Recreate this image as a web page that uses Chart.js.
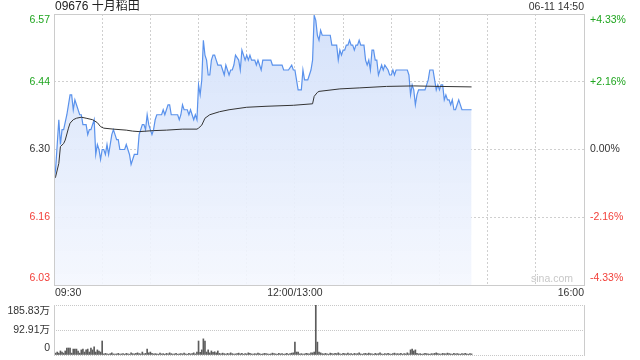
<!DOCTYPE html>
<html><head><meta charset="utf-8">
<script src="https://cdn.jsdelivr.net/npm/chart.js@4.4.1/dist/chart.umd.min.js"></script>
<style>
html,body{margin:0;padding:0;background:#fff;width:640px;height:360px;overflow:hidden}
.box{position:absolute;left:0;width:640px}
</style></head><body>
<div class="box" style="top:0;height:300px"><canvas id="c1" width="640" height="300"></canvas></div>
<div class="box" style="top:300px;height:60px"><canvas id="c2" width="640" height="60"></canvas></div>
<script>
const titleText = '09676 十月稻田';
const stampText = '06-11 14:50';
const prevClose = 6.30;
const pctRange = 4.33;
const priceTickLabels = ['6.57','6.44','6.30','6.16','6.03'];
const pctTickLabels = ['+4.33%','+2.16%','0.00%','-2.16%','-4.33%'];
const timeTickMinutes = [0,150,330];
const timeTickLabels = ['09:30','12:00/13:00','16:00'];
const volTickLabels = ['185.83万','92.91万','0'];
const volMax = 185.83;

// minutes after 09:30 (lunch break removed) and last price
const priceMinutes = [
  0,1,3,4,5,6,8,9,10,11,
  12,13,14,16,17,18,19,20,21,22,
  23,24,25,26,27,28,29,30,31,32,
  33,34,35,36,37,38,39,40,41,43,
  44,45,46,47,48,50,51,52,53,55,
  56,57,58,59,60,61,62,63,64,65,
  67,68,69,70,71,72,73,76,77,78,
  79,80,81,82,83,84,85,86,87,88,
  89,90,91,92,93,94,95,96,97,98,
  99,100,101,102,103,104,105,106,107,108,
  109,110,111,112,113,115,116,117,118,119,
  120,121,122,123,124,125,126,127,128,129,
  130,132,135,136,138,142,143,145,146,148,
  149,150,151,152,154,155,156,158,159,160,
  161,162,163,164,165,166,167,168,170,172,
  173,175,176,177,178,179,180,181,182,183,
  184,185,186,187,188,189,190,191,192,193,
  194,195,196,197,198,199,200,201,202,203,
  204,205,206,208,209,210,211,212,213,215,
  219,220,221,222,223,224,225,226,227,229,
  231,232,233,234,236,237,238,239,240,241,
  242,243,244,245,246,247,248,249,250,251,
  252,254,257,260
];
const prices = [
  6.24,6.26,6.36,6.31,6.34,6.34,6.37,6.39,6.41,6.41,
  6.38,6.40,6.39,6.37,6.37,6.35,6.35,6.35,6.33,6.34,
  6.34,6.35,6.36,6.29,6.31,6.30,6.28,6.30,6.30,6.29,
  6.31,6.29,6.31,6.33,6.34,6.33,6.32,6.32,6.30,6.30,
  6.30,6.31,6.30,6.29,6.27,6.29,6.29,6.29,6.33,6.35,
  6.35,6.34,6.37,6.35,6.34,6.33,6.34,6.36,6.37,6.37,
  6.37,6.38,6.37,6.38,6.39,6.39,6.37,6.37,6.37,6.36,
  6.37,6.39,6.38,6.38,6.38,6.37,6.38,6.37,6.36,6.37,
  6.36,6.43,6.41,6.44,6.52,6.49,6.48,6.45,6.45,6.48,
  6.49,6.49,6.48,6.47,6.47,6.47,6.46,6.45,6.47,6.46,
  6.45,6.46,6.46,6.47,6.49,6.48,6.46,6.50,6.49,6.48,
  6.49,6.48,6.49,6.48,6.48,6.48,6.47,6.48,6.47,6.46,
  6.48,6.48,6.48,6.47,6.47,6.47,6.46,6.46,6.46,6.47,
  6.46,6.46,6.44,6.42,6.42,6.46,6.44,6.44,6.45,6.46,
  6.48,6.57,6.56,6.53,6.52,6.54,6.53,6.53,6.53,6.53,
  6.51,6.51,6.51,6.48,6.50,6.49,6.50,6.50,6.51,6.51,
  6.52,6.51,6.51,6.50,6.51,6.51,6.52,6.51,6.51,6.51,
  6.48,6.47,6.48,6.46,6.50,6.50,6.48,6.48,6.45,6.46,
  6.47,6.46,6.47,6.46,6.45,6.45,6.46,6.45,6.46,6.46,
  6.46,6.46,6.45,6.41,6.43,6.42,6.39,6.41,6.42,6.42,
  6.42,6.43,6.44,6.46,6.46,6.44,6.42,6.43,6.42,6.43,
  6.43,6.40,6.41,6.40,6.40,6.39,6.40,6.38,6.38,6.39,
  6.40,6.38,6.38,6.38
];

// average price line
const avgMinutes = [
  0,1,3,4,6,7,9,10,12,14,
  17,20,24,27,29,31,37,45,49,53,
  62,70,80,89,90,92,94,97,103,109,
  120,132,149,161,162,164,165,178,190,207,
  224,240,260
];
const avgPrices = [
  6.24,6.245,6.272,6.306,6.312,6.319,6.343,6.353,6.360,6.363,
  6.365,6.363,6.360,6.354,6.346,6.343,6.341,6.339,6.337,6.336,
  6.338,6.339,6.341,6.341,6.343,6.349,6.363,6.370,6.376,6.380,
  6.385,6.387,6.389,6.392,6.407,6.415,6.417,6.422,6.424,6.427,
  6.428,6.427,6.426
];

// volume per minute (万股), minute 0..260
const volumes = [
  11,7,11,7,15,11,7,15,26,26,
  26,7,22,22,22,15,7,19,22,11,
  19,22,11,26,19,30,11,19,15,11,
  52,4,6,4,3,5,8,4,3,4,
  6,3,4,5,3,6,4,3,8,5,
  4,6,8,5,4,11,4,6,22,8,
  11,6,4,5,4,3,7,4,5,3,
  6,4,8,5,3,4,6,3,4,5,
  4,7,4,3,6,4,5,8,4,11,
  52,10,19,60,52,11,19,8,15,10,
  12,8,15,6,4,7,5,3,6,4,
  8,5,3,4,5,7,4,6,3,5,
  4,8,6,4,3,5,4,7,5,3,
  4,6,5,4,3,4,7,5,4,3,
  6,4,5,3,4,6,3,5,7,8,
  48,11,11,4,5,3,4,6,5,4,
  8,8,11,185.83,48,11,8,5,4,6,
  4,3,7,5,4,6,5,8,4,3,
  6,5,4,7,4,5,3,6,4,5,
  8,4,3,5,6,4,7,5,4,3,
  6,4,5,8,4,3,5,4,6,4,
  3,5,7,4,5,4,6,3,5,4,
  8,4,19,22,15,19,6,4,5,3,
  4,6,5,4,3,5,4,6,8,5,
  4,3,6,5,4,7,5,4,3,6,
  4,5,4,3,5,4,6,4,3,5,
  4
];

const FONT = '"Liberation Sans", Arial, "Noto Sans CJK SC", sans-serif';
const GREEN = '#1fa51f', RED = '#f2403a', DARK = '#333333';
const labelColors = [GREEN, GREEN, DARK, RED, RED];

const pMin = prevClose * (1 - pctRange / 100);
const pMax = prevClose * (1 + pctRange / 100);
const priceTickValues = [pMax, (pMax + prevClose) / 2, prevClose, (pMin + prevClose) / 2, pMin];

const priceData = priceMinutes.map((m, i) => ({x: m, y: prices[i]}));
const avgData = avgMinutes.map((m, i) => ({x: m, y: avgPrices[i]}));
const volData = volumes.map((v, i) => ({x: i, y: v}));

const hideEnds = (ctx) => {
  const n = ctx.scale.ticks.length;
  return (ctx.index === 0 || ctx.index === n - 1) ? 'rgba(0,0,0,0)' : '#cfcfcf';
};

const priceDecor = {
  id: 'priceDecor',
  afterDraw(chart) {
    const c = chart.ctx, a = chart.chartArea;
    const ys = chart.scales.y, xs = chart.scales.x;
    c.save();
    c.strokeStyle = '#cccccc';
    c.lineWidth = 1;
    c.setLineDash([]);
    c.strokeRect(Math.round(a.left) + 0.5, Math.round(a.top) + 0.5,
                 Math.round(a.right - a.left), Math.round(a.bottom - a.top));
    c.font = '10.5px ' + FONT;
    c.textBaseline = 'middle';
    priceTickValues.forEach((v, i) => {
      let y = ys.getPixelForValue(v);
      if (i === 0) y += 6;
      if (i === priceTickValues.length - 1) y -= 7;
      c.fillStyle = labelColors[i];
      c.textAlign = 'right';
      c.fillText(priceTickLabels[i], a.left - 4, y);
      c.textAlign = 'left';
      c.fillText(pctTickLabels[i], a.right + 6, y);
    });
    c.fillStyle = DARK;
    timeTickMinutes.forEach((m, i) => {
      const x = xs.getPixelForValue(m);
      c.textAlign = i === 0 ? 'left' : (i === timeTickMinutes.length - 1 ? 'right' : 'center');
      c.fillText(timeTickLabels[i], x + (i === 0 ? 1 : 0), a.bottom + 8.5);
    });
    c.fillStyle = '#c8c8c8';
    c.textAlign = 'right';
    c.fillText('sina.com', a.right - 11, a.bottom - 6);
    c.fillStyle = '#222';
    c.textAlign = 'left';
    c.font = '12px ' + FONT;
    c.fillText(titleText, a.left + 1, 7);
    c.textAlign = 'right';
    c.font = '10.5px ' + FONT;
    c.fillStyle = DARK;
    c.fillText(stampText, a.right, 7.5);
    c.restore();
  }
};

new Chart(document.getElementById('c1'), {
  type: 'line',
  data: {
    datasets: [
      {
        label: 'avg', data: avgData, borderColor: '#333333', borderWidth: 1,
        pointRadius: 0, tension: 0, fill: false, order: 0
      },
      {
        label: 'price', data: priceData, borderColor: '#5a92ec', borderWidth: 1.2,
        pointRadius: 0, tension: 0, fill: 'start', order: 1,
        backgroundColor: (ctx) => {
          const a = ctx.chart.chartArea;
          if (!a) return 'rgba(220,230,250,0.6)';
          const g = ctx.chart.ctx.createLinearGradient(0, a.top, 0, a.bottom);
          g.addColorStop(0, 'rgba(210,224,250,0.95)');
          g.addColorStop(1, 'rgba(244,247,254,0.9)');
          return g;
        }
      }
    ]
  },
  options: {
    responsive: false, animation: false, events: [],
    layout: {padding: {left: 54, right: 56, top: 14, bottom: 15}},
    plugins: {legend: {display: false}, tooltip: {enabled: false}},
    scales: {
      x: {
        type: 'linear', min: 0, max: 330, offset: false,
        afterBuildTicks: (s) => { const t = []; for (let m = 0; m <= 330; m += 30) t.push({value: m}); s.ticks = t; },
        ticks: {display: false},
        grid: {drawTicks: false, color: hideEnds, lineWidth: 1},
        border: {display: false, dash: [2, 2]}
      },
      y: {
        type: 'linear', min: pMin, max: pMax,
        afterBuildTicks: (s) => { s.ticks = priceTickValues.slice().reverse().map(v => ({value: v})); },
        ticks: {display: false},
        grid: {drawTicks: false, color: hideEnds, lineWidth: 1},
        border: {display: false, dash: [2, 2]}
      }
    }
  },
  plugins: [priceDecor]
});

const volDecor = {
  id: 'volDecor',
  afterDraw(chart) {
    const c = chart.ctx, a = chart.chartArea, ys = chart.scales.y;
    c.save();
    c.strokeStyle = '#cccccc';
    c.lineWidth = 1;
    c.beginPath();
    c.moveTo(Math.round(a.left) + 0.5, Math.round(a.top));
    c.lineTo(Math.round(a.left) + 0.5, Math.round(a.bottom) + 1);
    c.moveTo(Math.round(a.right) + 0.5, Math.round(a.top));
    c.lineTo(Math.round(a.right) + 0.5, Math.round(a.bottom) + 1);
    c.stroke();
    c.font = '10.5px ' + FONT;
    c.textBaseline = 'middle';
    c.textAlign = 'right';
    c.fillStyle = DARK;
    const vals = [volMax, volMax / 2, 0];
    vals.forEach((v, i) => {
      let y = ys.getPixelForValue(v);
      if (i === 0) y += 6;
      if (i === vals.length - 1) y -= 7;
      c.fillText(volTickLabels[i], a.left - 4, y);
    });
    c.restore();
  }
};

new Chart(document.getElementById('c2'), {
  type: 'bar',
  data: {
    datasets: [{
      label: 'vol', data: volData, backgroundColor: '#5c5c5c',
      borderWidth: 0, barThickness: 1
    }]
  },
  options: {
    responsive: false, animation: false, events: [],
    layout: {padding: {left: 54, right: 56, top: 5, bottom: 5}},
    plugins: {legend: {display: false}, tooltip: {enabled: false}},
    scales: {
      x: {
        type: 'linear', min: 0, max: 330, offset: false,
        ticks: {display: false},
        grid: {display: false, drawTicks: false},
        border: {display: false}
      },
      y: {
        type: 'linear', min: 0, max: volMax,
        afterBuildTicks: (s) => { s.ticks = [0, volMax / 2, volMax].map(v => ({value: v})); },
        ticks: {display: false},
        grid: {drawTicks: false, color: '#c8c8c8', lineWidth: 1},
        border: {display: false, dash: [1, 1]}
      }
    }
  },
  plugins: [volDecor]
});
</script>
</body></html>
